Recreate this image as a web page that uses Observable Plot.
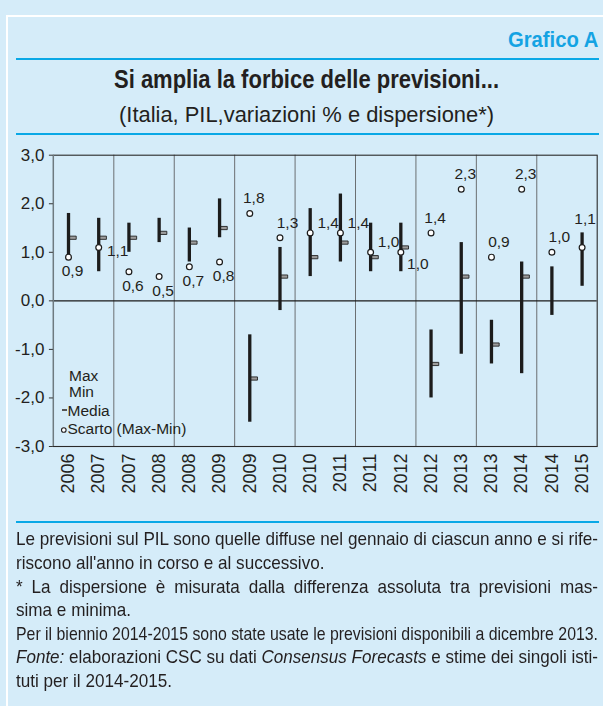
<!DOCTYPE html>
<html><head><meta charset="utf-8">
<script src="https://cdn.jsdelivr.net/npm/d3@7"></script>
<script src="https://cdn.jsdelivr.net/npm/@observablehq/plot@0.6"></script>
<style>
html,body{margin:0;padding:0;}
body{width:603px;height:706px;background:#d5ecf9;position:relative;overflow:hidden;font-family:"Liberation Sans",Arial,sans-serif;color:#231f20;}
.abs{position:absolute;}
.cond{font-family:"Liberation Sans",Arial,sans-serif;white-space:nowrap;line-height:1;transform-origin:0 0;}
#chart{position:absolute;left:0;top:140px;}
.leg{position:absolute;font-size:15.5px;line-height:1;white-space:nowrap;color:#231f20;}
#footer{position:absolute;left:16px;top:0;transform-origin:0 0;}
#footer div{position:absolute;left:0;white-space:nowrap;font-family:"Liberation Sans",Arial,sans-serif;font-size:18.5px;line-height:1;color:#231f20;transform-origin:0 0;}
</style></head><body>
<div class="abs" style="left:7px;top:15px;right:0;height:2px;background:#fff"></div>
<div class="abs" style="left:6px;top:15px;width:2px;bottom:0;background:#fff"></div>
<span class="abs cond" id="grafico" style="font-weight:bold;color:#14a3e3;font-size:22px;">Grafico A</span>
<div class="abs" style="left:16px;top:58.3px;width:583px;height:2.2px;background:#0aa8e6"></div>
<span class="abs cond" id="title" style="font-weight:bold;font-size:25.5px;">Si amplia la forbice delle previsioni...</span>
<span class="abs cond" id="subtitle" style="font-size:22px;">(Italia, PIL,variazioni % e dispersione*)</span>
<div class="abs" style="left:16px;top:133.2px;width:583px;height:2.2px;background:#0aa8e6"></div>
<div id="chart"></div>
<div class="leg" style="left:69px;top:367.5px">Max</div>
<div class="leg" style="left:69px;top:384.2px">Min</div>
<div class="abs" style="left:61.5px;top:408.8px;width:5px;height:2.2px;background:#555"></div>
<div class="leg" style="left:67.5px;top:402.9px">Media</div>
<svg class="abs" style="left:60px;top:426px" width="8" height="8"><circle cx="3.8" cy="4" r="2.3" fill="#fff" stroke="#231f20" stroke-width="1.1"/></svg>
<div class="leg" style="left:67.5px;top:420.9px">Scarto (Max-Min)</div>
<div class="abs" style="left:16px;top:521px;width:583px;height:1.6px;background:#0aa8e6"></div>
<div id="footer"></div>
<script>
// ---- data ----
const labels = ["2006","2007","2007","2008","2008","2009","2009","2010","2010","2011","2011","2012","2012","2013","2013","2014","2014","2015"];
const maxV   = [1.8, 1.7, 1.6, 1.7, 1.5, 2.1, -0.7, 1.1, 1.9, 2.2, 1.6, 1.6, -0.6, 1.2, -0.4, 0.8, 0.7, 1.4];
const minV   = [0.9, 0.6, 1.0, 1.2, 0.8, 1.3, -2.5, -0.2, 0.5, 0.8, 0.6, 0.6, -2.0, -1.1, -1.3, -1.5, -0.3, 0.3];
const mediaV = [1.3, 1.3, 1.3, 1.4, 1.2, 1.5, -1.6, 0.5, 0.9, 1.2, 0.9, 1.1, -1.3, 0.5, -0.9, 0.5, null, null];
const scartoV = [0.9, 1.1, 0.6, 0.5, 0.7, 0.8, 1.8, 1.3, 1.4, 1.4, 1.0, 1.0, 1.4, 2.3, 0.9, 2.3, 1.0, 1.1];
const labelPlace = ["below","right","below","below","below","below","above","aboveR","rightUp","rightUp","rightUp","rightDown","above","above","aboveR","above","aboveR","high"];
const yTicks = [-3, -2, -1, 0, 1, 2, 3];

// ---- label placement styles (offsets in px) ----
const placeStyle = {
  below: [4, 14], above: [4, -15], aboveR: [7.5, -15], rightUp: [18, -10],
  right: [19, 4], rightDown: [17, 12], high: [3, -28]
};

const rows = labels.map((l, i) => ({
  pos: i + 0.5, label: l, max: maxV[i], min: minV[i], media: mediaV[i],
  scarto: scartoV[i], place: labelPlace[i],
  text: scartoV[i].toFixed(1).replace(".", ",")
}));
const fmt = d => d.toFixed(1).replace(".", ",");

const mediaSymbol = {draw(ctx) { ctx.moveTo(0, -1.6); ctx.lineTo(7.7, -1.6); ctx.lineTo(7.7, 1.6); ctx.lineTo(0, 1.6); ctx.closePath(); }};

const textMarks = Object.entries(placeStyle).map(([k, [dx, dy]]) =>
  Plot.text(rows.filter(r => r.place === k), {x: "pos", y: "scarto", text: "text", dx, dy, fontSize: 15.5, fill: "#231f20"})
);

const chart = Plot.plot({
  width: 603, height: 380,
  marginTop: 14.7, marginBottom: 74, marginLeft: 52.9, marginRight: 6.3,
  style: {background: "transparent", fontFamily: "'Liberation Sans', Arial, sans-serif", color: "#231f20", overflow: "visible"},
  x: {domain: [0, labels.length], axis: null},
  y: {domain: [-3, 3], axis: null},
  marks: [
    Plot.ruleX(d3.range(2, labels.length, 2), {stroke: "#6b6f72", strokeWidth: 1}),
    Plot.ruleY([0], {stroke: "#1a1a1a", strokeWidth: 1.1}),
    Plot.frame({stroke: "#2a2a2a", strokeWidth: 1.1}),
    Plot.ruleX([0], {stroke: "#6e7a80", strokeWidth: 1.3}),
    Plot.axisY({ticks: yTicks, tickFormat: fmt, tickSize: 4, tickPadding: 5, fontSize: 17, stroke: "#333", label: null}),
    Plot.axisX({ticks: rows.map(r => r.pos), tickFormat: d => labels[Math.floor(d)], tickSize: 0, tickPadding: 7, tickRotate: -90, fontSize: 18, label: null}),
    Plot.dot(rows.filter(r => r.media != null), {x: "pos", y: "media", symbol: mediaSymbol, r: 3, fill: "#9c9c9c", stroke: "#222", strokeWidth: 0.9}),
    Plot.ruleX(rows, {x: "pos", y1: "min", y2: "max", stroke: "#1c1c1c", strokeWidth: 3.3}),
    Plot.dot(rows, {x: "pos", y: "scarto", r: 2.9, fill: "#fff", stroke: "#1c1c1c", strokeWidth: 1.2}),
    ...textMarks
  ]
});
document.getElementById("chart").appendChild(chart);

// ---- header text fitting ----
function place(id, x0, baseline, target) {
  const el = document.getElementById(id);
  const fs = parseFloat(el.style.fontSize);
  const w = el.getBoundingClientRect().width;
  el.style.left = x0 + "px";
  el.style.top = (baseline - 0.8465 * fs) + "px";
  el.style.transform = `scaleX(${target / w})`;
}
place("grafico", 507.7, 48, 90.3);
place("title", 114, 89, 385);
place("subtitle", 119, 123, 375);

// ---- footer ----
const footLines = [
  ["Le previsioni sul PIL sono quelle diffuse nel gennaio di ciascun anno e si rife-", true],
  ["riscono all'anno in corso e al successivo.", false],
  ["* La dispersione è misurata dalla differenza assoluta tra previsioni mas-", true],
  ["sima e minima.", false],
  ["Per il biennio 2014-2015 sono state usate le previsioni disponibili a dicembre 2013.", true],
  ["<i>Fonte:</i> elaborazioni CSC su dati <i>Consensus Forecasts</i> e stime dei singoli isti-", true],
  ["tuti per il 2014-2015.", false]
];
const footer = document.getElementById("footer");
const fsF = 18.5, fullW = 582;
const els = footLines.map(([t, j], k) => {
  const d = document.createElement("div");
  d.innerHTML = t;
  d.style.top = (546 + 23.6 * k - 0.8465 * fsF) + "px";
  footer.appendChild(d);
  return d;
});
// global horizontal condensing taken from the first (naturally spaced) line
const s = fullW / els[0].getBoundingClientRect().width;
footer.style.transform = `scaleX(${s})`;
const innerW = fullW / s;
els.forEach((e, k) => {
  if (!footLines[k][1]) return;
  const w = e.getBoundingClientRect().width / s;
  if (w > innerW) { e.style.transform = `scaleX(${innerW / w})`; return; }
  const spaces = (e.textContent.match(/ /g) || []).length;
  if (spaces > 0) e.style.wordSpacing = ((innerW - w) / spaces) + "px";
});
</script>
</body></html>
